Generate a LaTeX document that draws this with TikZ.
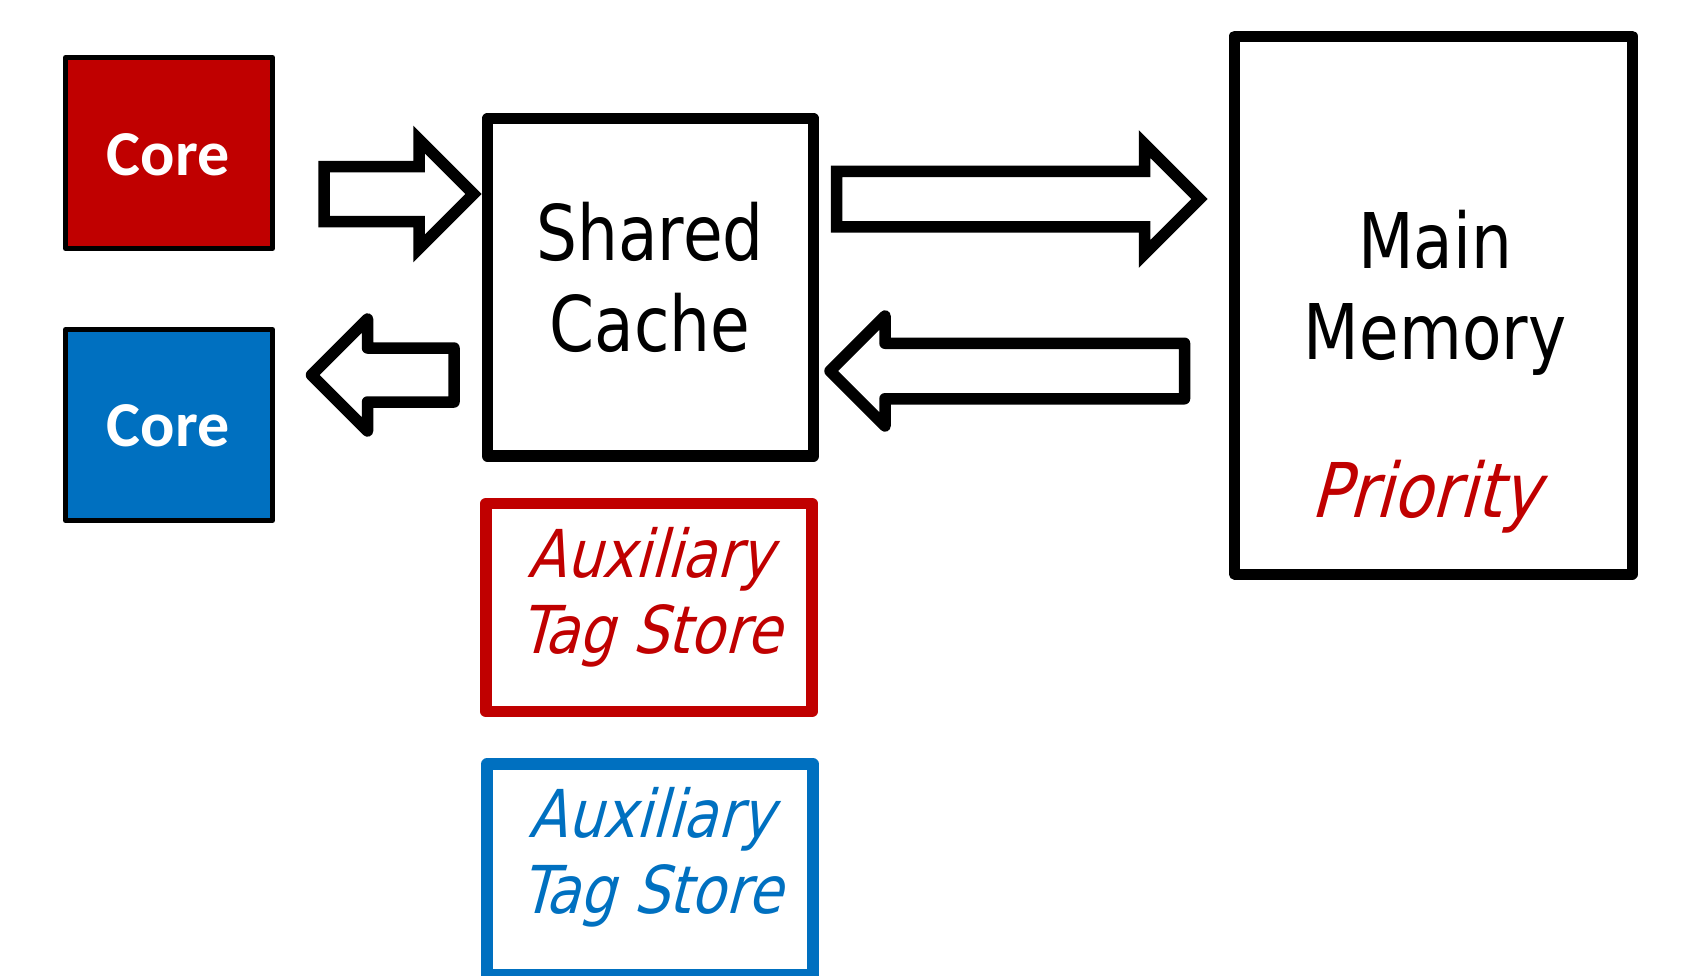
\documentclass[tikz,border=0pt]{standalone}
\usepackage{fontspec}
\usetikzlibrary{calc}
% narrow humanist sans for the box labels, Calibri-metric bold for the cores
\newfontfamily\labelfont[FakeStretch=0.84]{DejaVu Sans}
\newfontfamily\slantfont[FakeStretch=0.85, FakeSlant=0.27]{DejaVu Sans}
\newfontfamily\corefont{Carlito}
\definecolor{corered}{HTML}{C00000}
\definecolor{coreblue}{HTML}{0070C0}

\begin{document}
\begin{tikzpicture}[x=1pt,y=-1pt,
  corebox/.style={draw=black, line width=5pt, line join=round,
    minimum width=207pt, minimum height=191pt, inner sep=0pt},
  bigbox/.style={draw=black, line width=11.5pt, line join=round, inner sep=0pt},
  tagbox/.style={line width=11.5pt, line join=round, inner sep=0pt,
    minimum width=326pt},
  coretext/.style={anchor=base, text=white, inner sep=0pt,
    font=\corefont\bfseries\fontsize{64}{70}\selectfont},
  maintext/.style={anchor=base, inner sep=0pt,
    font=\labelfont\fontsize{76.8}{91}\selectfont},
  tagtext/.style={anchor=base, inner sep=0pt,
    font=\slantfont\fontsize{66}{76}\selectfont},
  blockR/.style={draw=black, fill=white, line width=11.5pt, line join=miter},
  blockL/.style={draw=black, fill=white, line width=11.5pt, line join=round},
]
\useasboundingbox (0,0) rectangle (1688,975);

% cores
\node[corebox, fill=corered]  (redcore)  at (169,153) {};
\node[corebox, fill=coreblue] (bluecore) at (169,425) {};
\node[coretext] (redcorelabel)  at (168,175) {Core};
\node[coretext] (bluecorelabel) at (168,446) {Core};

% shared cache and main memory
\node[bigbox, minimum width=326pt, minimum height=337.5pt] (cache) at (650.5,287.25) {};
\node[maintext] (cachelabel) at (650,260)
  {\begin{tabular}[t]{@{}c@{}}Shared\\Cache\end{tabular}};

\node[bigbox, line width=11pt, minimum width=397.5pt, minimum height=538pt] (memory) at (1433.25,305) {};
\node[maintext] (memorylabel) at (1435,268)
  {\begin{tabular}[t]{@{}c@{}}Main\\Memory\end{tabular}};
\node[maintext, font=\slantfont\fontsize{75.5}{91}\selectfont, text=corered]
  (priority) at (1425,517) {Priority};

% auxiliary tag stores
\node[tagbox, draw=corered, minimum height=208pt] (atsred) at (649,607.5) {};
\node[tagtext, text=corered] (atsredlabel) at (650,577)
  {\begin{tabular}[t]{@{}c@{}}Auxiliary\\Tag Store\end{tabular}};
\node[tagbox, draw=coreblue, minimum height=211pt] (atsblue) at (650,869.5) {};
\node[tagtext, text=coreblue] (atsbluelabel) at (651,837)
  {\begin{tabular}[t]{@{}c@{}}Auxiliary\\Tag Store\end{tabular}};

% block arrows between the levels
\coordinate (reqtip)  at ($(cache.west)+(-8.25,-93.25)$);
\coordinate (filltip) at ($(bluecore.east)+(36.5,-50)$);
\coordinate (misstip) at ($(memory.west)+(-29.5,-106)$);
\coordinate (datatip) at ($(cache.east)+(10.75,83.75)$);

\draw[blockR] (reqtip) -- ++(-54.5,-54.5) -- ++(0,27) -- ++(-95,0)
  -- ++(0,55) -- ++(95,0) -- ++(0,27) -- cycle;
\draw[blockL] (filltip) -- ++(56,-56) -- ++(0,29) -- ++(86.5,0)
  -- ++(0,54) -- ++(-86.5,0) -- ++(0,29) -- cycle;
\draw[blockR] (misstip) -- ++(-55,-55) -- ++(0,27.25) -- ++(-308,0)
  -- ++(0,55.5) -- ++(308,0) -- ++(0,27.25) -- cycle;
\draw[blockL] (datatip) -- ++(55,-55) -- ++(0,27.25) -- ++(299.5,0)
  -- ++(0,55.5) -- ++(-299.5,0) -- ++(0,27.25) -- cycle;
\end{tikzpicture}
\end{document}
